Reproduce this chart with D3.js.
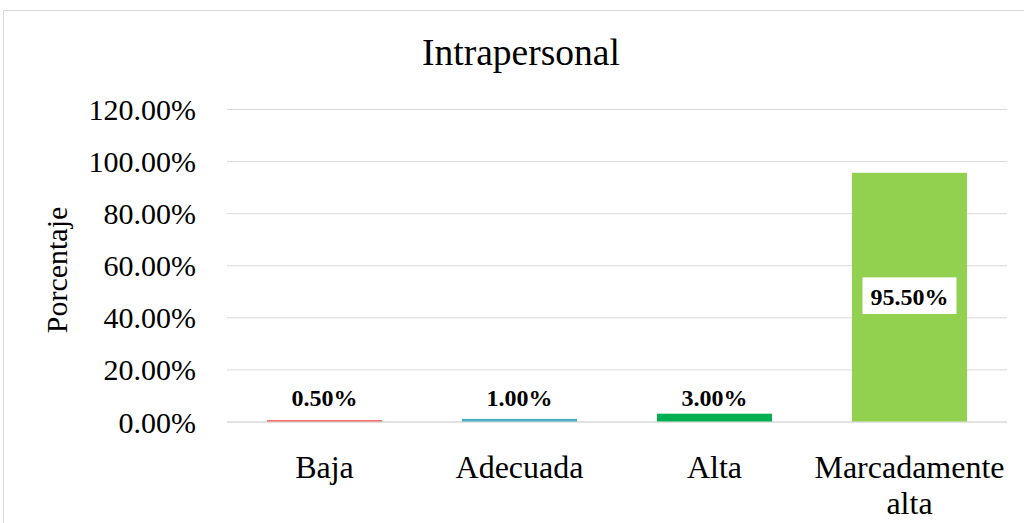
<!DOCTYPE html>
<html>
<head>
<meta charset="utf-8">
<script src="https://cdn.jsdelivr.net/npm/d3@7"></script>
<style>
  body { margin: 0; background: #fff; }
  text { font-family: "Liberation Serif", "Times New Roman", serif; fill: #000; }
</style>
</head>
<body>
<div id="chart"></div>
<script>
// Data
var categories = ["Baja", "Adecuada", "Alta", "Marcadamente alta"];
var values = [0.5, 1.0, 3.0, 95.5];
var colors = ["#f4524d", "#4bacc6", "#00b050", "#92d050"];
var yTicks = [0, 20, 40, 60, 80, 100, 120];

var svgWidth = 1024;
var svgHeight = 523;

var margin = { top: 109, right: 17, bottom: 101.5, left: 227 };
var width = svgWidth - margin.left - margin.right;
var height = svgHeight - margin.top - margin.bottom;

var svg = d3.select("#chart")
  .append("svg")
  .attr("width", svgWidth)
  .attr("height", svgHeight);

// outer chart border
svg.append("rect")
  .attr("x", 3.5)
  .attr("y", 10.5)
  .attr("width", 1100)
  .attr("height", 600)
  .attr("fill", "#fff")
  .attr("stroke", "#d9d9d9")
  .attr("stroke-width", 1);

var chart = svg.append("g")
  .attr("transform", `translate(${margin.left}, ${margin.top})`);

// scales
var x = d3.scaleBand()
  .domain(categories)
  .range([0, width])
  .paddingInner(0.41)
  .paddingOuter(0.205);

var y = d3.scaleLinear()
  .domain([0, 120])
  .range([height, 0]);

// gridlines + y tick labels
var leftAxis = d3.axisLeft(y)
  .tickValues(yTicks)
  .tickSize(-width)
  .tickPadding(31)
  .tickFormat(d => d.toFixed(2) + "%");

var yAxis = chart.append("g").call(leftAxis);
yAxis.select(".domain").remove();
yAxis.selectAll(".tick line")
  .attr("stroke", "#d9d9d9")
  .attr("stroke-width", d => d === 0 ? 1.5 : 1);
yAxis.selectAll(".tick text")
  .attr("font-size", "30px")
  .attr("font-family", "Liberation Serif")
  .attr("fill", "#000")
  .attr("dy", "0.35em");

// bars
chart.selectAll(".bar")
  .data(values)
  .enter()
  .append("rect")
  .attr("class", "bar")
  .attr("x", (d, i) => x(categories[i]))
  .attr("y", d => y(d))
  .attr("width", x.bandwidth())
  .attr("height", d => y(0) - y(d))
  .attr("fill", (d, i) => colors[i]);

// data labels
values.forEach(function(d, i) {
  var cx = x(categories[i]) + x.bandwidth() / 2;
  var label = d.toFixed(2) + "%";
  if (d > 50) {
    var cy = (y(0) + y(d)) / 2 - 1.5;
    chart.append("rect")
      .attr("x", cx - 47)
      .attr("y", cy - 18.3)
      .attr("width", 94)
      .attr("height", 36.6)
      .attr("fill", "#fff");
    chart.append("text")
      .attr("x", cx)
      .attr("y", cy + 9.3)
      .attr("text-anchor", "middle")
      .attr("font-size", "24px")
      .attr("font-weight", "bold")
      .text(label);
  } else {
    chart.append("text")
      .attr("x", cx)
      .attr("y", y(0) - 16)
      .attr("text-anchor", "middle")
      .attr("font-size", "24px")
      .attr("font-weight", "bold")
      .text(label);
  }
});

// category labels (wrapped)
categories.forEach(function(c, i) {
  var cx = x(c) + x.bandwidth() / 2;
  var lines = c === "Marcadamente alta" ? ["Marcadamente", "alta"] : [c];
  var t = chart.append("text")
    .attr("text-anchor", "middle")
    .attr("font-size", "32px");
  lines.forEach(function(l, j) {
    t.append("tspan")
      .attr("x", cx)
      .attr("y", height + 56 + j * 36)
      .text(l);
  });
});

// title
svg.append("text")
  .attr("x", 521)
  .attr("y", 65)
  .attr("text-anchor", "middle")
  .attr("font-size", "37.5px")
  .text("Intrapersonal");

// y axis title
svg.append("text")
  .attr("transform", "translate(67, 270) rotate(-90)")
  .attr("text-anchor", "middle")
  .attr("font-size", "30px")
  .text("Porcentaje");
</script>
</body>
</html>
